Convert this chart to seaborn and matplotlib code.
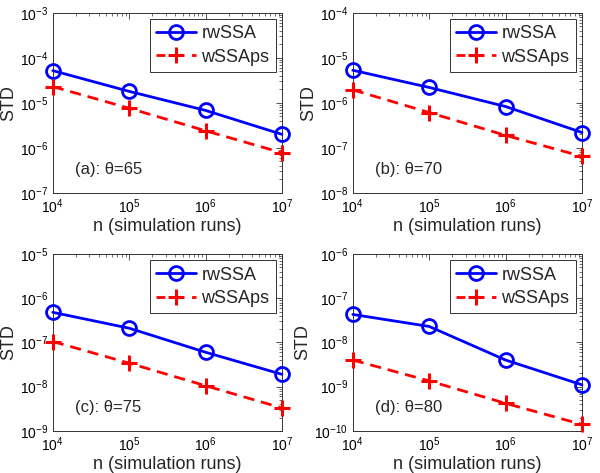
import matplotlib
matplotlib.use("Agg")
import matplotlib.pyplot as plt
import numpy as np
import seaborn as sns
from matplotlib.ticker import LogLocator, NullFormatter

# simulation runs
n_runs = [1e4, 1e5, 1e6, 1e7]

# panel (a) theta=65
rw_a = [5.2e-5, 1.8e-5, 6.8e-6, 2.0e-6]
ps_a = [2.3e-5, 7.6e-6, 2.4e-6, 7.8e-7]
# panel (b) theta=70
rw_b = [5.3e-6, 2.2e-6, 8.3e-7, 2.2e-7]
ps_b = [1.95e-6, 6.1e-7, 1.9e-7, 6.5e-8]
# panel (c) theta=75
rw_c = [4.8e-7, 2.1e-7, 6.0e-8, 1.9e-8]
ps_c = [1.05e-7, 3.4e-8, 1.05e-8, 3.3e-9]
# panel (d) theta=80
rw_d = [4.3e-8, 2.3e-8, 4.0e-9, 1.1e-9]
ps_d = [4.0e-9, 1.35e-9, 4.2e-10, 1.4e-10]

panel_labels = ["(a): \u03b8=65", "(b): \u03b8=70", "(c): \u03b8=75", "(d): \u03b8=80"]
y_limits = [(1e-7, 1e-3), (1e-8, 1e-4), (1e-9, 1e-5), (1e-10, 1e-6)]
rw_series = [rw_a, rw_b, rw_c, rw_d]
ps_series = [ps_a, ps_b, ps_c, ps_d]

sns.set_style("white")
plt.rcParams["font.family"] = ["Liberation Sans", "DejaVu Sans"]
plt.rcParams["mathtext.fontset"] = "custom"
plt.rcParams["mathtext.rm"] = "Liberation Sans"

fig = plt.figure(figsize=(6.0, 4.73), dpi=100)

# axes boxes in figure fractions (left, bottom, width, height)
boxes = [
    (0.088, 0.592, 0.382, 0.381),
    (0.588, 0.592, 0.382, 0.381),
    (0.088, 0.089, 0.382, 0.374),
    (0.588, 0.089, 0.382, 0.374),
]

for i, box in enumerate(boxes):
    ax = fig.add_axes(box)
    sns.lineplot(x=n_runs, y=rw_series[i], ax=ax, color="blue", lw=2,
                 marker="o", markersize=10, mfc="none", mec="blue", mew=2,
                 label="rwSSA", clip_on=False, zorder=3)
    sns.lineplot(x=n_runs, y=ps_series[i], ax=ax, color="red", lw=2,
                 linestyle=(0, (4, 2.5)), marker="+", markersize=11,
                 mec="red", mew=2.2, label="wSSAps", clip_on=False, zorder=3)
    ax.set_xscale("log")
    ax.set_yscale("log")
    ax.set_xlim(1e4, 1e7)
    ax.set_ylim(*y_limits[i])
    ax.set_xticks(n_runs)
    lo, hi = np.log10(y_limits[i])
    ax.set_yticks([10.0 ** k for k in range(int(lo), int(hi) + 1)])
    for axis in (ax.xaxis, ax.yaxis):
        axis.set_minor_locator(LogLocator(base=10, subs=np.arange(2, 10), numticks=20))
        axis.set_minor_formatter(NullFormatter())
    ax.tick_params(which="both", direction="in", top=True, right=True,
                   labelsize=10, colors="#333333", labelcolor="black")
    ax.tick_params(which="major", length=4, width=0.6)
    ax.tick_params(which="minor", length=2, width=0.5)
    for sp in ax.spines.values():
        sp.set_color("#333333")
        sp.set_linewidth(0.7)
    ax.set_xlabel("n (simulation runs)", fontsize=13, labelpad=1)
    ax.set_ylabel("STD", fontsize=13, labelpad=2)
    ax.text(0.095, 0.13, panel_labels[i], transform=ax.transAxes,
            fontsize=12, va="center", ha="left")
    leg = ax.legend(loc="upper right", fontsize=13, handlelength=2.2,
                    handletextpad=0.3, borderpad=0.35, labelspacing=0.35,
                    fancybox=False, framealpha=1, borderaxespad=0.35)
    leg.get_frame().set_edgecolor("#333333")
    leg.get_frame().set_linewidth(0.7)
    # legend handle for the dashed series: one dash each side of the marker
    leg.get_lines()[1].set_linestyle((0, (3.2, 3.2)))

fig.savefig("out.png", dpi=100)
